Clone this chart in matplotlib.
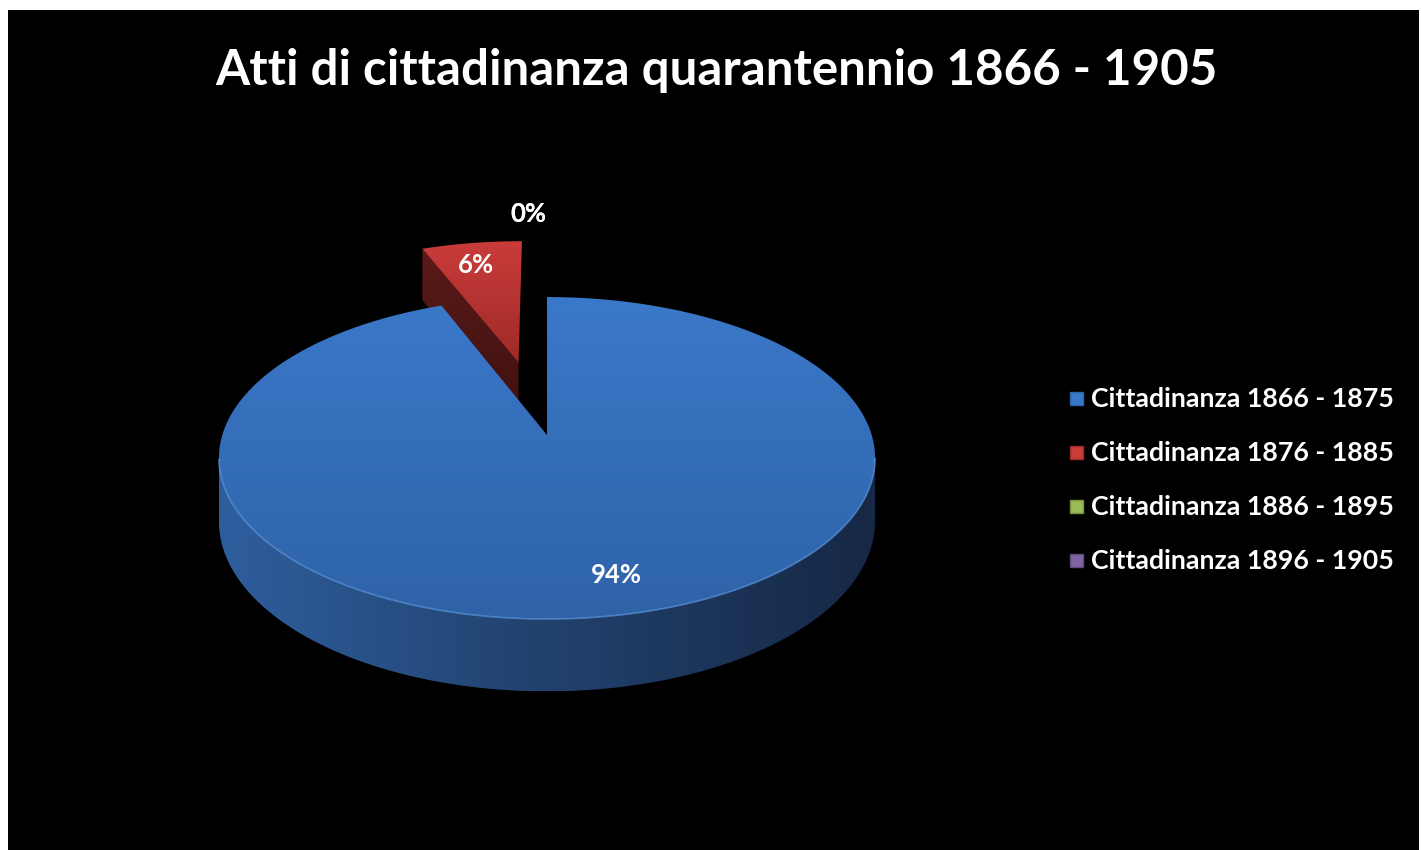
import numpy as np
import matplotlib
matplotlib.use("Agg")
import matplotlib.pyplot as plt
from matplotlib.patches import Polygon, Rectangle
from matplotlib.colors import LinearSegmentedColormap

# data
title = "Atti di cittadinanza quarantennio 1866 - 1905"
categories = ["Cittadinanza 1866 - 1875", "Cittadinanza 1876 - 1885",
              "Cittadinanza 1886 - 1895", "Cittadinanza 1896 - 1905"]
values = [94, 6, 0, 0]
explode = [0.0, 0.5, 0.0, 0.0]
colors = ["#3a78c9", "#c93c3a", "#9bbb59", "#8064a2"]
dark_colors = ["#2f63a8", "#9e2a27", "#76923c", "#5f497a"]

# pie geometry (pixels)
CX, CY = 547, 435
A, B = 324.7, 157.7
K = 0.143
D = 62

plt.rcParams['font.family'] = ['Lato', 'DejaVu Sans']


def proj(u, v, z=0.0):
    """Simple perspective projection of a point on the pie"""
    s = 1.0 / (1.0 + K * v)
    return CX + A * u * s, CY - B * v * s + z * D * s


def grad_fill(ax, pts, stops, vertical=True, zorder=2):
    """Fill a polygon with a linear gradient"""
    pts = np.asarray(pts)
    poly = Polygon(pts, closed=True, facecolor="none", edgecolor="none", zorder=zorder)
    ax.add_patch(poly)
    cmap = LinearSegmentedColormap.from_list("g", stops)
    if vertical:
        img = np.linspace(0, 1, 256).reshape(-1, 1)
    else:
        img = np.linspace(0, 1, 256).reshape(1, -1)
    x0, x1 = pts[:, 0].min(), pts[:, 0].max()
    y0, y1 = pts[:, 1].min(), pts[:, 1].max()
    im = ax.imshow(img, cmap=cmap, extent=(x0, x1, y1, y0), origin="upper",
                   aspect="auto", interpolation="bilinear", zorder=zorder)
    im.set_clip_path(poly)


fig = plt.figure(figsize=(14.21, 8.5), dpi=100, facecolor="white")
ax = fig.add_axes([0, 0, 1, 1])
ax.add_patch(Rectangle((8, 10), 1411, 840, facecolor="black", edgecolor="none", zorder=0))

total = sum(values)
angles = np.cumsum([0] + [360.0 * v / total for v in values])

slices = []
for i, v in enumerate(values):
    t0, t1 = angles[i], angles[i + 1]
    tm = np.radians((t0 + t1) / 2)
    ou, ov = explode[i] * np.sin(tm), explode[i] * np.cos(tm)
    slices.append((i, t0, t1, ou, ov))

# far slices first
for i, t0, t1, ou, ov in sorted(slices, key=lambda s: -s[4]):
    if t1 - t0 <= 0:
        continue
    ts = np.radians(np.linspace(t0, t1, 400))
    # cut faces
    for t, sgn in ((t0, -1), (t1, 1)):
        tr = np.radians(t)
        if sgn * np.sin(tr) > 1e-6:
            pts = [proj(ou, ov), proj(ou + np.sin(tr), ov + np.cos(tr)),
                   proj(ou + np.sin(tr), ov + np.cos(tr), 1), proj(ou, ov, 1)]
            grad_fill(ax, pts, ["#5a1a18", "#3e1110"], zorder=2)
    # outer wall
    vis = ts[np.cos(ts) < -K]
    if len(vis) > 1:
        top = [proj(ou + np.sin(t), ov + np.cos(t)) for t in vis]
        bot = [proj(ou + np.sin(t), ov + np.cos(t), 1) for t in vis[::-1]]
        grad_fill(ax, top + bot, ["#2f5e9e", "#21416d", "#162845"], vertical=False, zorder=3)
    # top face
    pts = [proj(ou, ov)] + [proj(ou + np.sin(t), ov + np.cos(t)) for t in ts]
    grad_fill(ax, pts, [colors[i], dark_colors[i]], zorder=4)
    if len(vis) > 1:
        rim = np.array([proj(ou + np.sin(t), ov + np.cos(t)) for t in vis])
        ax.plot(rim[:, 0], rim[:, 1], color="#5d97df", lw=1.2, alpha=0.7, zorder=5)

# percentage labels
for i, t0, t1, ou, ov in slices:
    pct = f"{round(100 * values[i] / total)}%"
    tm = np.radians((t0 + t1) / 2)
    if values[i] > 0:
        x, y = proj(ou + 0.8 * np.sin(tm), ov + 0.8 * np.cos(tm))
        x += 15 if i == 0 else -4
    else:
        x, y = proj(1.75 * np.sin(tm), 1.75 * np.cos(tm))
        x -= 19
    ax.text(x, y, pct, color="white", fontsize=18.5, fontweight="bold",
            ha="center", va="center", zorder=6)

ax.text(716, 70, title, color="white", fontsize=35.5, fontweight="bold",
        ha="center", va="center")

# legend
for i, name in enumerate(categories):
    y = 399 + 54 * i
    ax.add_patch(Rectangle((1070, y - 7), 13, 13, facecolor=colors[i],
                           edgecolor=dark_colors[i], lw=1, zorder=5))
    ax.text(1091, y, name, color="white", fontsize=19.3, fontweight="bold",
            ha="left", va="center")

ax.set_xlim(0, 1421)
ax.set_ylim(850, 0)
ax.axis("off")
fig.savefig("out.png", dpi=100, facecolor="white")
